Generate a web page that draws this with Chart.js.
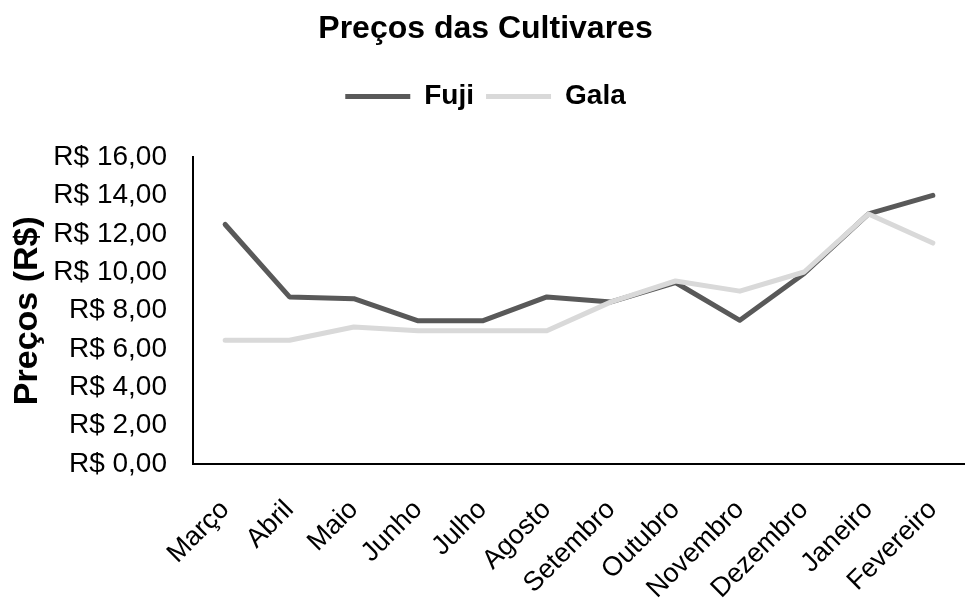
<!DOCTYPE html>
<html>
<head>
<meta charset="utf-8">
<script src="https://cdn.jsdelivr.net/npm/chart.js@4"></script>
<style>
  html, body { margin: 0; padding: 0; background: #fff; }
  #wrap { width: 965px; height: 600px; }
</style>
</head>
<body>
<div id="wrap"><canvas id="chart" width="965" height="600"></canvas></div>
<script>
// categories and series
const months = ["Março", "Abril", "Maio", "Junho", "Julho", "Agosto",
    "Setembro", "Outubro", "Novembro", "Dezembro", "Janeiro", "Fevereiro"];
const fujiPrices = [12.5, 8.72, 8.63, 7.47, 7.47, 8.72, 8.46, 9.47, 7.5, 9.94, 13.05, 14.02];
const galaPrices = [6.46, 6.46, 7.15, 6.95, 6.95, 6.95, 8.46, 9.55, 9.02, 10.02, 13.05, 11.53];
const yMin = 0;
const yMax = 16;
const yStep = 2;

const FONT = "'Liberation Sans', Arial, sans-serif";

// extra room under the legend, like the Excel original
const legendMargin = {
    id: "legendMargin",
    beforeInit(chart) {
        const fit = chart.legend.fit;
        chart.legend.fit = function () {
            fit.bind(chart.legend)();
            this.height += 37;
        };
    }
};

const fmt = v => "R$ " + v.toFixed(2).replace(".", ",");

new Chart(document.getElementById("chart"), {
    type: "line",
    data: {
        labels: months,
        datasets: [
            {
                label: "Fuji",
                data: fujiPrices,
                borderColor: "#595959",
                backgroundColor: "#595959",
                borderWidth: 5,
                order: 1
            },
            {
                label: "Gala",
                data: galaPrices,
                borderColor: "#d9d9d9",
                backgroundColor: "#d9d9d9",
                borderWidth: 5,
                order: 0
            }
        ]
    },
    options: {
        responsive: false,
        animation: false,
        devicePixelRatio: 1,
        layout: { padding: { left: 0, right: -6, top: 0, bottom: 0 } },
        elements: {
            point: { radius: 0, hoverRadius: 0 },
            line: { tension: 0, borderCapStyle: "round", borderJoinStyle: "round" }
        },
        plugins: {
            tooltip: { enabled: false },
            title: {
                display: true,
                text: "Preços das Cultivares",
                color: "#000",
                font: { family: FONT, size: 32, weight: "bold" },
                padding: { top: 10, bottom: 22 }
            },
            legend: {
                position: "top",
                labels: {
                    color: "#000",
                    font: { family: FONT, size: 28, weight: "bold" },
                    boxWidth: 65,
                    boxHeight: 5,
                    padding: 12,
                    sort: (a, b) => a.datasetIndex - b.datasetIndex,
                    generateLabels(chart) {
                        const items = Chart.defaults.plugins.legend.labels.generateLabels(chart);
                        items.forEach(it => {
                            it.fillStyle = it.strokeStyle;
                            it.lineWidth = 0;
                        });
                        return items;
                    }
                }
            }
        },
        scales: {
            x: {
                offset: true,
                grid: { display: false, drawTicks: false },
                border: { display: true, color: "#000", width: 2 },
                ticks: {
                    color: "#000",
                    font: { family: FONT, size: 27 },
                    minRotation: 45,
                    maxRotation: 45,
                    padding: 30,
                    autoSkip: false
                },
                afterFit(scale) {
                    scale.height = 136;
                    scale.paddingLeft = 0;
                    scale.paddingRight = 0;
                }
            },
            y: {
                min: yMin,
                max: yMax,
                grid: { display: false, drawTicks: false },
                border: { display: true, color: "#000", width: 2 },
                ticks: {
                    stepSize: yStep,
                    color: "#000",
                    font: { family: FONT, size: 28 },
                    padding: 26,
                    callback: v => fmt(v)
                },
                title: {
                    display: true,
                    text: "Preços (R$)",
                    color: "#000",
                    font: { family: FONT, size: 34, weight: "bold" },
                    padding: { top: 7, bottom: 4 }
                },
                afterFit(scale) { scale.width = 193; }
            }
        }
    },
    plugins: [legendMargin]
});
</script>
</body>
</html>
